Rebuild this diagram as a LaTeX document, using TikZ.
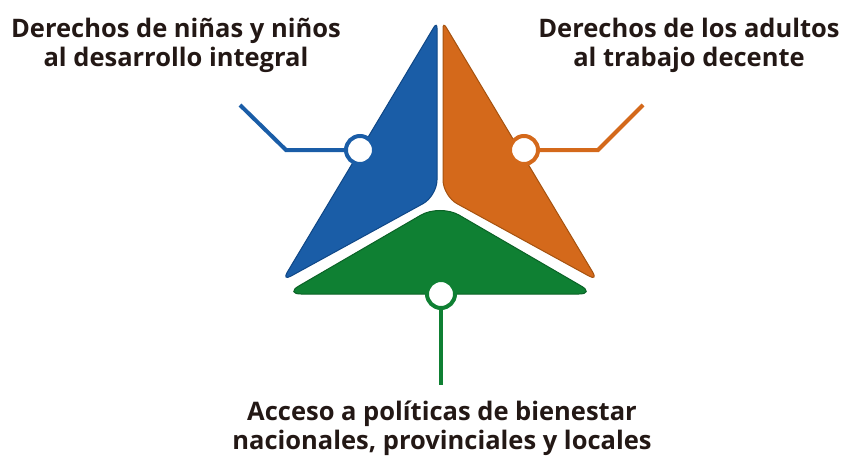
\documentclass[tikz,border=0pt]{standalone}
\usepackage{fontspec}
\setmainfont{Open Sans}
\usetikzlibrary{calc}
\definecolor{cblue}{HTML}{1A5DA7}
\definecolor{cbluedk}{HTML}{0F4786}
\definecolor{corange}{HTML}{D4691B}
\definecolor{corangedk}{HTML}{A5520F}
\definecolor{cgreen}{HTML}{0F8033}
\definecolor{cgreendk}{HTML}{0A6226}
\definecolor{ctext}{HTML}{231815}
\newcommand\roundtri[7]{%
 \path[#1] ($(#2)!#5pt!(#3)$)
 -- ($(#3)!#6pt!(#2)$) .. controls ($(#3)!#6*0.45pt!(#2)$) and ($(#3)!#6*0.45pt!(#4)$) .. ($(#3)!#6pt!(#4)$)
 -- ($(#4)!#7pt!(#3)$) .. controls ($(#4)!#7*0.45pt!(#3)$) and ($(#4)!#7*0.45pt!(#2)$) .. ($(#4)!#7pt!(#2)$)
 -- ($(#2)!#5pt!(#4)$) .. controls ($(#2)!#5*0.45pt!(#4)$) and ($(#2)!#5*0.45pt!(#3)$) .. ($(#2)!#5pt!(#3)$)
 -- cycle;}
\tikzset{
 label/.style={font=\fontsize{25.5}{28.7}\selectfont\bfseries, text=ctext, align=center, inner sep=0pt, anchor=base},
 ring/.style={circle, fill=white, line width=4pt, minimum size=28pt, inner sep=0pt},
 link/.style={line width=4pt},
}
\begin{document}
\begin{tikzpicture}[x=1pt,y=-1pt]
\useasboundingbox (0,0) rectangle (843,458);
% vertices
\coordinate (bt) at (437,22);
\coordinate (bl) at (282,281);
\coordinate (bi) at (437,196);
\coordinate (ot) at (443,22);
\coordinate (or) at (598,281);
\coordinate (oi) at (443,196);
\coordinate (ga) at (440,204);
\coordinate (gl) at (285,294);
\coordinate (gr) at (595,294);
\roundtri{fill=cblue, draw=cbluedk, line width=1pt}{bt}{bl}{bi}{6}{10}{16}
\roundtri{fill=corange, draw=corangedk, line width=1pt}{ot}{oi}{or}{6}{16}{10}
\roundtri{fill=cgreen, draw=cgreendk, line width=1pt}{ga}{gl}{gr}{22}{16}{16}
% rings
\node[ring, draw=cblue] (cb) at (360,150) {};
\node[ring, draw=corange] (co) at (524,150) {};
\node[ring, draw=cgreen] (cg) at (441,294) {};
\coordinate (bk) at (286,150);
\coordinate (be) at (240,105);
\coordinate (ok) at (598,150);
\coordinate (oe) at (643,105);
\coordinate (ge) at (441,385);
\draw[link, draw=cblue] (cb) -- (bk) -- (be);
\draw[link, draw=corange] (co) -- (ok) -- (oe);
\draw[link, draw=cgreen] (cg) -- (ge);
% labels
\node[label] (tb) at (176,66) {Derechos de niñas y niños\\al desarrollo integral};
\node[label] (to) at (689,66) {Derechos de los adultos\\al trabajo decente};
\node[label] (tg) at (442,449.5) {Acceso a políticas de bienestar\\nacionales, provinciales y locales};
\end{tikzpicture}
\end{document}
